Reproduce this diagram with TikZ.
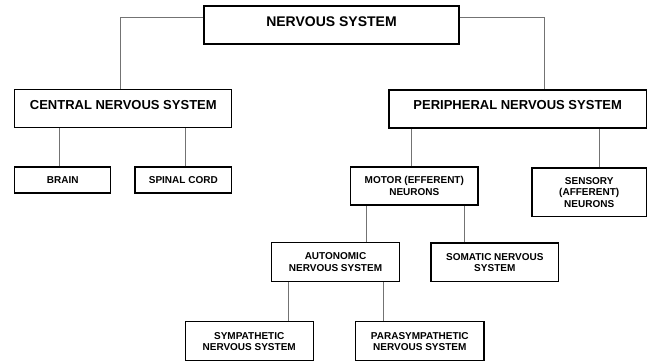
\documentclass[tikz,border=0pt]{standalone}
\usepackage{fontspec}
\setmainfont{Liberation Sans}
\begin{document}
\begin{tikzpicture}[x=1pt,y=-1pt,
  box/.style={draw=black, line width=1.1pt, inner sep=0pt, align=center,
    font=\bfseries\fontsize{10}{11.5}\selectfont},
  bigbox/.style={box, font=\bfseries\fontsize{13}{15}\selectfont, text height=9.3pt, text depth=8pt},
  link/.style={draw=black!55, line width=0.8pt}]
\useasboundingbox (0,0) rectangle (652,360);
\node[box, minimum width=255pt, minimum height=38pt, font=\bfseries\fontsize{14}{16}\selectfont,
  text height=10pt, text depth=8pt] (ns) at (331.5,25) {NERVOUS SYSTEM};
\node[bigbox, minimum width=217pt, minimum height=38pt] (cns) at (123.3,108.5) {CENTRAL NERVOUS SYSTEM};
\node[bigbox, minimum width=257.5pt, minimum height=38pt] (pns) at (517.7,109) {PERIPHERAL NERVOUS SYSTEM};
\node[box, minimum width=96pt, minimum height=26pt] (brain) at (62.7,180) {BRAIN};
\node[box, minimum width=96.7pt, minimum height=26pt] (spinal) at (183.3,180) {SPINAL CORD};
\node[box, minimum width=127.3pt, minimum height=38pt] (motor) at (414.3,186) {MOTOR (EFFERENT)\\NEURONS};
\node[box, minimum width=114.5pt, minimum height=48.7pt] (sensory) at (589.2,192.3) {SENSORY\\(AFFERENT)\\NEURONS};
\node[box, minimum width=128pt, minimum height=39pt] (auto) at (335.5,262.2) {AUTONOMIC\\NERVOUS SYSTEM};
\node[box, minimum width=127.7pt, minimum height=38.7pt] (somatic) at (494.8,262.3) {SOMATIC NERVOUS\\SYSTEM};
\node[box, minimum width=128.3pt, minimum height=39.3pt] (symp) at (249.2,341.3) {SYMPATHETIC\\NERVOUS SYSTEM};
\node[box, minimum width=128.3pt, minimum height=39.3pt] (para) at (419.8,341.3) {PARASYMPATHETIC\\NERVOUS SYSTEM};
% connectors
\draw[link] ([yshift=7.5pt]ns.west) -| ([xshift=-2.6pt]cns.north);
\draw[link] ([yshift=7.5pt]ns.east) -| ([xshift=26.3pt]pns.north);
\draw[link] ([xshift=-3.7pt]brain.north) -- ([xshift=-3.7pt]brain.north |- cns.south);
\draw[link] ([xshift=2.4pt]spinal.north) -- ([xshift=2.4pt]spinal.north |- cns.south);
\draw[link] ([xshift=-3.3pt]motor.north) -- ([xshift=-3.3pt]motor.north |- pns.south);
\draw[link] ([xshift=9.8pt]sensory.north) -- ([xshift=9.8pt]sensory.north |- pns.south);
\draw[link] ([xshift=30.5pt]auto.north) -- ([xshift=30.5pt]auto.north |- motor.south);
\draw[link] ([xshift=-30.8pt]somatic.north) -- ([xshift=-30.8pt]somatic.north |- motor.south);
\draw[link] ([xshift=38.8pt]symp.north) -- ([xshift=38.8pt]symp.north |- auto.south);
\draw[link] ([xshift=-36.3pt]para.north) -- ([xshift=-36.3pt]para.north |- auto.south);
\end{tikzpicture}
\end{document}
